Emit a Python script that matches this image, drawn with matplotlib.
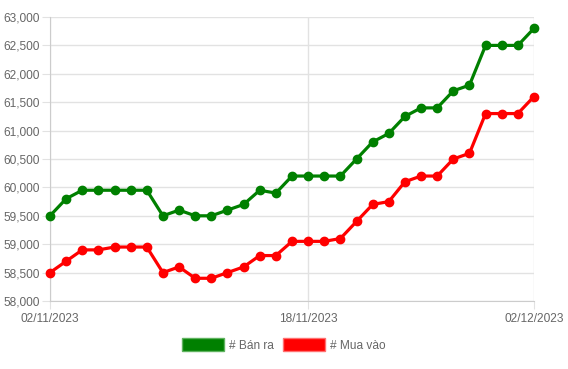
import matplotlib
matplotlib.use("Agg")
import matplotlib.pyplot as plt
from matplotlib.patches import Patch
from matplotlib.ticker import FuncFormatter
import pandas as pd

# daily prices, 02/11/2023 .. 02/12/2023
dates = pd.date_range("2023-11-02", "2023-12-02", freq="D")
ban_ra = [59500, 59800, 59950, 59950, 59950, 59950, 59950, 59500, 59600, 59500,
          59500, 59600, 59700, 59950, 59900, 60200, 60200, 60200, 60200, 60500,
          60800, 60950, 61250, 61400, 61400, 61700, 61800, 62500, 62500, 62500,
          62800]
mua_vao = [58500, 58700, 58900, 58900, 58950, 58950, 58950, 58500, 58600, 58400,
           58400, 58500, 58600, 58800, 58800, 59050, 59050, 59050, 59100, 59400,
           59700, 59750, 60100, 60200, 60200, 60500, 60600, 61300, 61300, 61300,
           61600]
tick_dates = ["2023-11-02", "2023-11-18", "2023-12-02"]

plt.rcParams["font.family"] = ["Liberation Sans", "DejaVu Sans"]
txt = "#666666"
grid = "#e2e2e2"
fs = 8.6

fig = plt.figure(figsize=(5.68, 3.69), dpi=100)
ax = fig.add_axes([50 / 568, 1 - 301 / 369, 484 / 568, 284 / 369])

ax.plot(dates, ban_ra, color="green", lw=2.3, marker="o", ms=6, label="# Bán ra",
        clip_on=False, zorder=3)
ax.plot(dates, mua_vao, color="red", lw=2.3, marker="o", ms=6, label="# Mua vào",
        clip_on=False, zorder=3)

ax.set_ylim(58000, 63000)
ax.set_yticks(range(58000, 63001, 500))
ax.yaxis.set_major_formatter(FuncFormatter(lambda v, p: f"{int(v):,}"))
ax.set_xlim(dates[0], dates[-1])
ticks = pd.to_datetime(tick_dates)
ax.set_xticks(ticks)
ax.set_xticklabels([d.strftime("%d/%m/%Y") for d in ticks])

ax.grid(True, color=grid, lw=1)
ax.set_axisbelow(True)
for s in ["top", "right"]:
    ax.spines[s].set_visible(False)
for s in ["left", "bottom"]:
    ax.spines[s].set_color("#cccccc")
ax.tick_params(axis="y", length=5.8, color=grid, labelsize=fs, labelcolor=txt, pad=1.5)
ax.tick_params(axis="x", length=5.8, color=grid, labelsize=fs, labelcolor=txt, pad=3)

# legend uses coloured boxes
handles = [Patch(facecolor="green", edgecolor="#5fb35f", label="# Bán ra"),
           Patch(facecolor="red", edgecolor="#ff7070", label="# Mua vào")]
fig.legend(handles=handles, loc="center", bbox_to_anchor=(0.5, 1 - 345 / 369), ncol=2,
           frameon=False, fontsize=fs, labelcolor=txt, handlelength=3.5, handleheight=1.25,
           handletextpad=0.4, columnspacing=0.8)

fig.savefig("out.png", dpi=100)
